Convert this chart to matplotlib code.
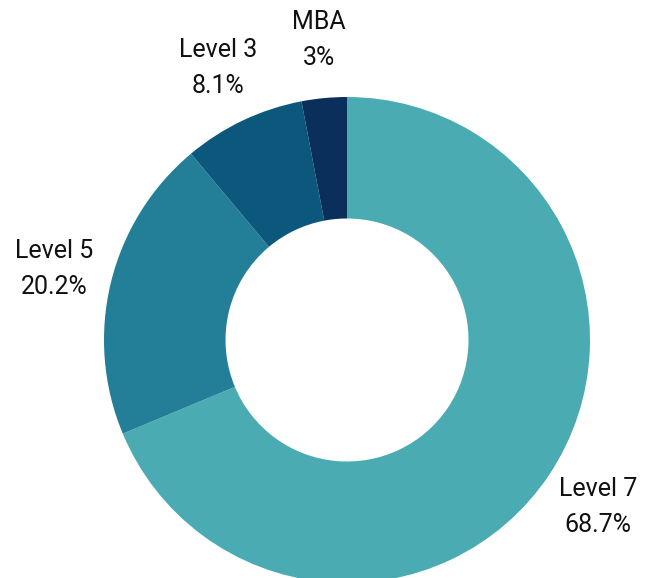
import matplotlib.pyplot as plt

labels = ['Level 7', 'Level 5', 'Level 3', 'MBA']
values = [68.7, 20.2, 8.1, 3.0]
pct_text = ['68.7%', '20.2%', '8.1%', '3%']
colors = ['#4BABB3', '#237F97', '#0C587C', '#0B2F5B']

plt.rcParams['font.family'] = ['Roboto', 'DejaVu Sans']

fig = plt.figure(figsize=(6.51, 5.78), dpi=100)
ax = fig.add_axes([0, 0, 1, 1])

texts = [f'{l}\n{p}' for l, p in zip(labels, pct_text)]
wedges, lbls = ax.pie(values, labels=texts, colors=colors, startangle=90,
                      counterclock=False, labeldistance=1.24,
                      wedgeprops=dict(width=0.5, linewidth=0),
                      textprops=dict(fontsize=18, color='#111111'))
for t in lbls:
    t.set_ha('center')
    t.set_va('center')
    t.set_linespacing(1.62)

ax.set_aspect('equal')
ax.set_xlim(-347 / 243, (651 - 347) / 243)
ax.set_ylim((340 - 578) / 243, 340 / 243)
ax.axis('off')

fig.savefig('out.png', dpi=100)
